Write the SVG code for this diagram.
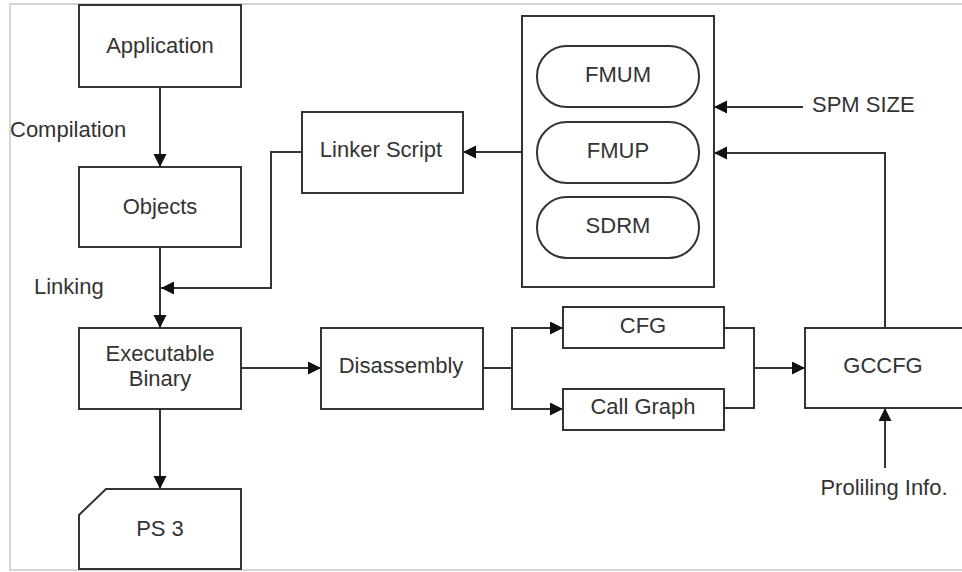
<svg xmlns="http://www.w3.org/2000/svg" width="962" height="572" viewBox="0 0 962 572">
<style>
.box{fill:#fff;stroke:#333;stroke-width:2}
.ln{fill:none;stroke:#333;stroke-width:2}
text{font-family:"Liberation Sans",Arial,sans-serif;font-size:22px;fill:#333}
.c{text-anchor:middle}
</style>
<defs>
<marker id="ah" markerUnits="userSpaceOnUse" markerWidth="14" markerHeight="14" refX="13" refY="6.5" orient="auto">
<path d="M0,0 L13,6.5 L0,13 z" fill="#111"/>
</marker>
</defs>
<rect x="10" y="4" width="970" height="566" fill="#fff" stroke="#c8c8c8" stroke-width="1.5"/>
<g id="connectors">
<path class="ln" d="M160,87 V167" marker-end="url(#ah)"/>
<path class="ln" d="M160,247 V328" marker-end="url(#ah)"/>
<path class="ln" d="M302,152 H271 V288 H161" marker-end="url(#ah)"/>
<path class="ln" d="M241,368 H321" marker-end="url(#ah)"/>
<path class="ln" d="M160,409 V489" marker-end="url(#ah)"/>
<path class="ln" d="M522,152 H463" marker-end="url(#ah)"/>
<path class="ln" d="M483,368 H512 V328 H563" marker-end="url(#ah)"/>
<path class="ln" d="M512,368 V409 H563" marker-end="url(#ah)"/>
<path class="ln" d="M724,328 H754 V408 H724"/>
<path class="ln" d="M754,368 H805" marker-end="url(#ah)"/>
<path class="ln" d="M803,107 H714" marker-end="url(#ah)"/>
<path class="ln" d="M885,328 V153 H714" marker-end="url(#ah)"/>
<path class="ln" d="M885,468 V408" marker-end="url(#ah)"/>
</g>
<g id="application"><rect class="box" x="79" y="5" width="162" height="82"/><text class="c" x="160" y="53">Application</text></g>
<g id="compilation"><text x="10" y="137">Compilation</text></g>
<g id="objects"><rect class="box" x="79" y="167" width="162" height="80"/><text class="c" x="160" y="214">Objects</text></g>
<g id="linking"><text x="34" y="294">Linking</text></g>
<g id="executable"><rect class="box" x="79" y="328" width="162" height="81"/><text class="c" x="160" y="361">Executable</text><text class="c" x="160" y="386">Binary</text></g>
<g id="ps3"><path class="box" d="M106,489 H241 V569 H79 V515 Z"/><text class="c" x="160" y="536">PS 3</text></g>
<g id="linker-script"><rect class="box" x="302" y="112" width="161" height="81"/><text class="c" x="381" y="157">Linker Script</text></g>
<g id="spm-box"><rect class="box" x="522" y="16" width="192" height="271"/></g>
<g id="fmum"><rect class="box" x="537" y="46" width="162" height="61" rx="30" ry="30"/><text class="c" x="618" y="82">FMUM</text></g>
<g id="fmup"><rect class="box" x="537" y="122" width="162" height="61" rx="30" ry="30"/><text class="c" x="618" y="158">FMUP</text></g>
<g id="sdrm"><rect class="box" x="537" y="197" width="162" height="61" rx="30" ry="30"/><text class="c" x="618" y="233">SDRM</text></g>
<g id="spm-size"><text x="812" y="112">SPM SIZE</text></g>
<g id="disassembly"><rect class="box" x="321" y="328" width="162" height="81"/><text class="c" x="401" y="373">Disassembly</text></g>
<g id="cfg"><rect class="box" x="563" y="307" width="161" height="41"/><text class="c" x="643" y="333">CFG</text></g>
<g id="call-graph"><rect class="box" x="563" y="389" width="161" height="41"/><text class="c" x="643" y="414">Call Graph</text></g>
<g id="gccfg"><rect class="box" x="805" y="328" width="170" height="80"/><text class="c" x="883" y="373">GCCFG</text></g>
<g id="profiling"><text class="c" x="884" y="495">Proliling Info.</text></g>
</svg>
